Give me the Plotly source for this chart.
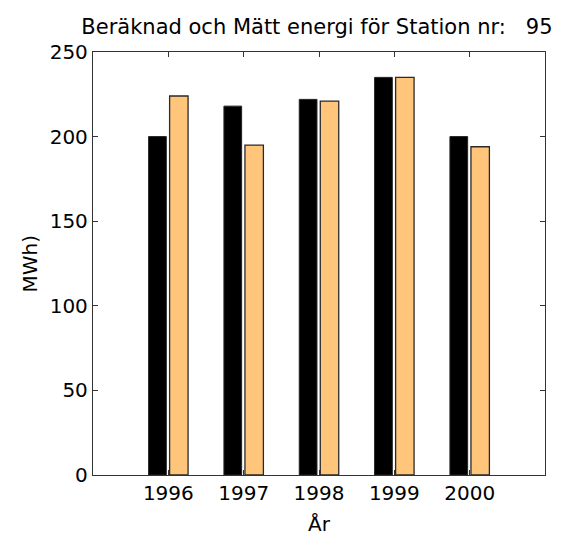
import plotly.graph_objects as go

years = [1996, 1997, 1998, 1999, 2000]
beraknad = [200, 218, 222, 235, 200]   # computed energy, MWh
matt = [224, 195, 221, 235, 194]       # measured energy, MWh
y_ticks = [0, 50, 100, 150, 200, 250]

family = "DejaVu Sans, Liberation Sans, sans-serif"
font = dict(family=family, size=20, color="black")

fig = go.Figure()
fig.add_trace(go.Bar(
    x=years, y=beraknad, width=0.235, offset=-0.262,
    marker=dict(color="black", line=dict(color="#222222", width=1)),
    name="Beräknad",
))
fig.add_trace(go.Bar(
    x=years, y=matt, width=0.245, offset=0.017,
    marker=dict(color="#FFC57A", line=dict(color="#2a2a2a", width=1.3)),
    name="Mätt",
))

axis_style = dict(
    ticks="inside", ticklen=5, tickcolor="#333", mirror="ticks",
    showline=True, linecolor="#333", linewidth=1.3,
    showgrid=False, zeroline=False, automargin=False,
    tickfont=dict(size=20),
)

fig.update_layout(
    width=561, height=536,
    margin=dict(l=93, r=16, t=52, b=61),
    paper_bgcolor="white", plot_bgcolor="white",
    showlegend=False,
    font=font,
    title=dict(
        text="Beräknad och Mätt energi för Station nr:&nbsp;&nbsp;&nbsp;95",
        x=0.565, xanchor="center", y=0.95, yanchor="middle",
        font=dict(family=family, size=21, color="black"),
    ),
    xaxis=dict(range=[1995, 2001], tickvals=years,
               ticktext=[str(y) for y in years], **axis_style),
    yaxis=dict(range=[0, 250], tickvals=y_ticks, **axis_style),
    annotations=[
        dict(text="År", xref="x", x=1998, yref="paper", y=0, yshift=-49,
             xanchor="center", yanchor="middle", showarrow=False,
             font=dict(size=20)),
        dict(text="MWh)", xref="paper", x=0, xshift=-64, yref="paper", y=0.5,
             xanchor="center", yanchor="middle", textangle=-90,
             showarrow=False, font=dict(size=20)),
    ],
)

fig.write_html("out.html")
